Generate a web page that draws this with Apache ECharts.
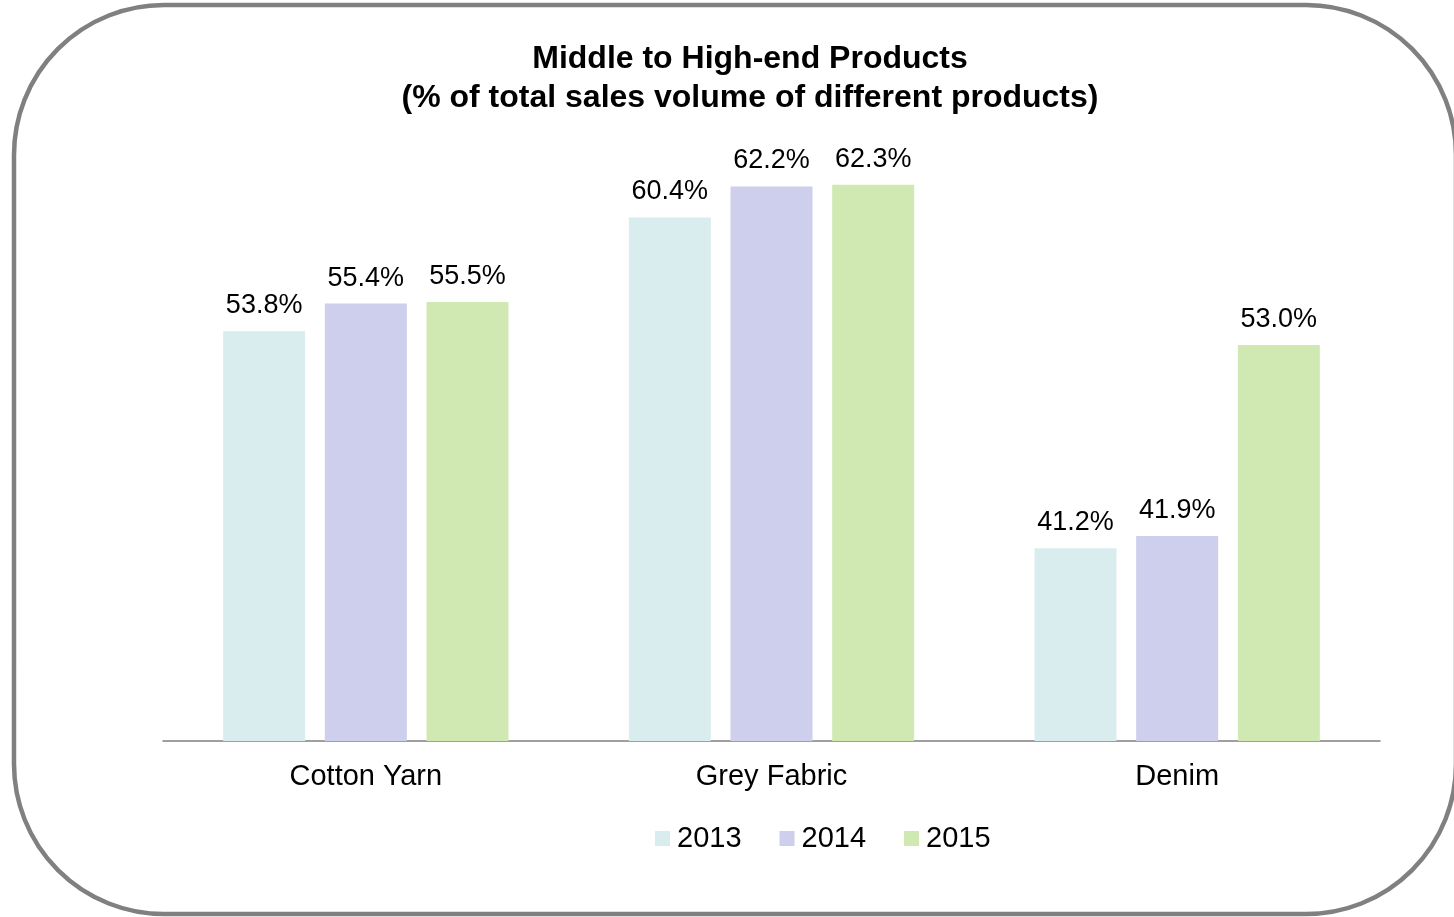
<!DOCTYPE html>
<html>
<head>
<meta charset="utf-8">
<title>Middle to High-end Products</title>
<script src="https://cdn.jsdelivr.net/npm/echarts@6/dist/echarts.min.js"></script>
<style>
  html, body { margin: 0; padding: 0; background: #ffffff; }
  #chart { width: 1454px; height: 917px; }
</style>
</head>
<body>
<div id="chart"></div>
<script>
// Product categories and yearly shares (% of total sales volume)
const categories = ['Cotton Yarn', 'Grey Fabric', 'Denim'];
const years = ['2013', '2014', '2015'];
const share2013 = [53.8, 60.4, 41.2];
const share2014 = [55.4, 62.2, 41.9];
const share2015 = [55.5, 62.3, 53.0];
const yearColors = ['#DAEDEE', '#CDCFEC', '#D0E9B3'];

const FONT = '"Liberation Sans", Arial, sans-serif';

const chart = echarts.init(document.getElementById('chart'), null, { renderer: 'canvas' });

function barSeries(name, values, color) {
  return {
    name: name,
    type: 'bar',
    data: values,
    barWidth: 82,
    barGap: '24%',
    itemStyle: { color: color },
    label: {
      show: true,
      position: 'top',
      distance: 12,
      color: '#000000',
      fontFamily: FONT,
      fontSize: 27,
      formatter: p => p.value.toFixed(1) + '%'
    },
    emphasis: { disabled: true }
  };
}

chart.setOption({
  animation: false,
  backgroundColor: '#ffffff',
  title: {
    text: 'Middle to High-end Products\n(% of total sales volume of different products)',
    left: 750,
    textAlign: 'center',
    top: 40,
    padding: 0,
    textStyle: {
      fontFamily: FONT,
      fontWeight: 'bold',
      fontSize: 32,
      lineHeight: 39,
      color: '#000000'
    }
  },
  legend: {
    data: years,
    left: 655,
    top: 824,
    padding: 0,
    icon: 'rect',
    itemWidth: 15,
    itemHeight: 15,
    itemGap: 38,
    textStyle: { fontFamily: FONT, fontSize: 29, color: '#000000', padding: [0, 0, 0, 2] }
  },
  grid: { left: 163, right: 74, top: 155.5, bottom: 176 },
  xAxis: {
    type: 'category',
    data: categories,
    axisLine: { show: true, lineStyle: { color: '#808080', width: 1.5 } },
    axisTick: { show: false },
    axisLabel: {
      fontFamily: FONT,
      fontSize: 29,
      color: '#000000',
      margin: 21
    }
  },
  yAxis: {
    type: 'value',
    min: 30,
    max: 64,
    show: false,
    splitLine: { show: false }
  },
  series: [
    barSeries(years[0], share2013, yearColors[0]),
    barSeries(years[1], share2014, yearColors[1]),
    barSeries(years[2], share2015, yearColors[2])
  ],
  graphic: [
    {
      type: 'rect',
      silent: true,
      z: 100,
      shape: { x: 14, y: 5, width: 1442, height: 909, r: 150 },
      style: { fill: 'none', stroke: '#808080', lineWidth: 4.5 }
    }
  ]
});
</script>
</body>
</html>
